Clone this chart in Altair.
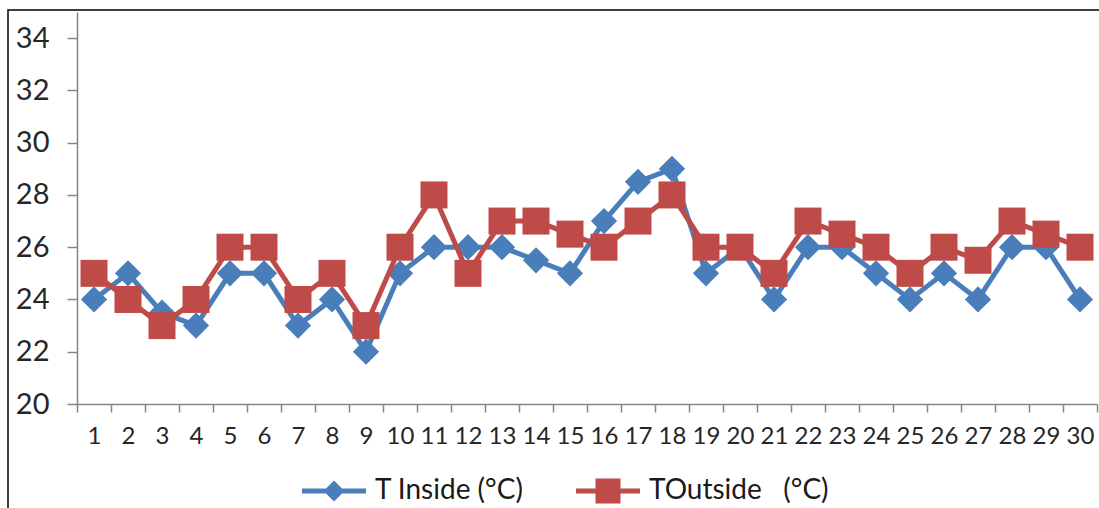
import altair as alt
import pandas as pd

# Daily temperatures over 30 days
days = list(range(1, 31))
t_inside = [24, 25, 23.5, 23, 25, 25, 23, 24, 22, 25,
            26, 26, 26, 25.5, 25, 27, 28.5, 29, 25, 26,
            24, 26, 26, 25, 24, 25, 24, 26, 26, 24]
t_outside = [25, 24, 23, 24, 26, 26, 24, 25, 23, 26,
             28, 25, 27, 27, 26.5, 26, 27, 28, 26, 26,
             25, 27, 26.5, 26, 25, 26, 25.5, 27, 26.5, 26]
series_names = ["T Inside (°C)", "TOutside\u00a0\u00a0\u00a0(°C)"]
series_colors = ["#4A7EBB", "#BE4B48"]
y_ticks = [20, 22, 24, 26, 28, 30, 32, 34]

rows = []
for name, values in zip(series_names, [t_inside, t_outside]):
    for d, v in zip(days, values):
        rows.append({"day": d, "temp": v, "series": name})
df = pd.DataFrame(rows)

FONT = "Lato"
AXIS_GRAY = "#868686"

# Marker shapes: diamond for inside, square for outside
marker_paths = ["M0,-1L1,0L0,1L-1,0Z", "M-1,-1L1,-1L1,1L-1,1Z"]
marker_sizes = [690, 729]

# Legend glyphs: a line segment with the series marker in the middle
legend_paths = [
    "M-3.2,-0.25L3.2,-0.25L3.2,0.25L-3.2,0.25Z M0,-1.05L1.05,0L0,1.05L-1.05,0Z",
    "M-3.2,-0.25L3.2,-0.25L3.2,0.25L-3.2,0.25Z M-1.25,-1.25L1.25,-1.25L1.25,1.25L-1.25,1.25Z",
]

color_scale = alt.Scale(domain=series_names, range=series_colors)

legend = alt.Legend(
    title=None,
    orient="none",
    legendX=221,
    legendY=465,
    direction="horizontal",
    labelFont=FONT,
    labelFontSize=28,
    labelColor="#1a1a1a",
    labelLimit=0,
    symbolSize=400,
    symbolOffset=22,
    labelOffset=27,
    columnPadding=48,
    symbolStrokeWidth=0,
    symbolOpacity=1,
)

x_enc = alt.X(
    "day:O",
    bandPosition=0.5,
    scale=alt.Scale(type="band", paddingInner=0, paddingOuter=0),
    axis=alt.Axis(
        title=None,
        labelAngle=0,
        tickBand="extent",
        domainColor=AXIS_GRAY,
        tickColor=AXIS_GRAY,
        domainWidth=1.5,
        tickWidth=1.5,
        tickSize=8,
        labelFont=FONT,
        labelFontSize=24,
        labelColor="#262626",
        labelPadding=12,
    ),
)
y_enc = alt.Y(
    "temp:Q",
    scale=alt.Scale(domain=[20, 35], nice=False, zero=False),
    axis=alt.Axis(
        title=None,
        values=y_ticks,
        grid=False,
        domainColor=AXIS_GRAY,
        tickColor=AXIS_GRAY,
        domainWidth=1.5,
        tickWidth=1.5,
        tickSize=10,
        labelFont=FONT,
        labelFontSize=29,
        labelColor="#262626",
        labelPadding=18,
    ),
)

base = alt.Chart(df)

# Each series: its line, then its markers on top
layers = []
for i, name in enumerate(series_names):
    sub = base.transform_filter(alt.datum.series == name)
    line = sub.mark_line(strokeWidth=5, color=series_colors[i]).encode(x=x_enc, y=y_enc)
    pts = sub.mark_point(
        filled=True, opacity=1, size=marker_sizes[i], strokeWidth=0,
        shape=marker_paths[i], color=series_colors[i],
    ).encode(x=x_enc, y=y_enc)
    layers += [line, pts]

# Legend-only layer: no rows pass the filter, the legend comes from the scale domains
legend_layer = base.transform_filter("false").mark_point(
    filled=True, opacity=1, strokeWidth=0
).encode(
    x=x_enc,
    y=y_enc,
    color=alt.Color("series:N", scale=color_scale, legend=legend),
    shape=alt.Shape("series:N", scale=alt.Scale(domain=series_names, range=legend_paths), legend=legend),
)

# Outer frame of the chart
frame = alt.Chart(pd.DataFrame({"f": [0]})).mark_rect(
    fillOpacity=0, stroke="#000000", strokeWidth=1.5
).encode(
    x=alt.value(-69), x2=alt.value(1300), y=alt.value(-2), y2=alt.value(800)
)

chart = alt.layer(*layers, legend_layer, frame).properties(
    width=1020,
    height=392,
    autosize=alt.AutoSizeParams(type="none"),
    padding={"left": 77, "top": 12, "right": 2, "bottom": 104},
    background="#ffffff",
).configure_view(stroke=None)

chart.save("out.html", embed_options={"renderer": "svg", "actions": False})
